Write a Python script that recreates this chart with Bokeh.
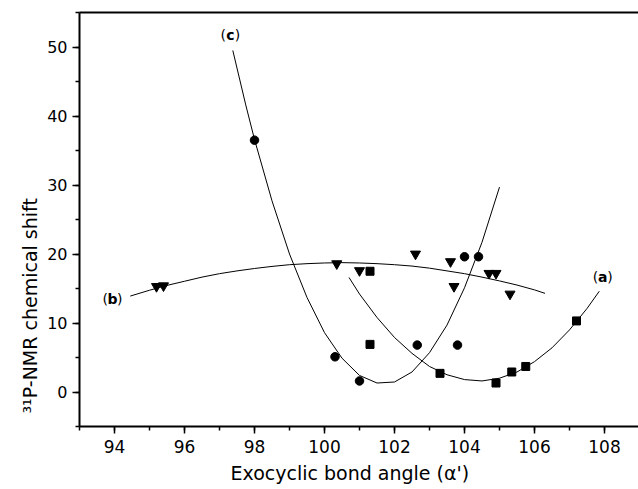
from bokeh.plotting import figure
from bokeh.models import SingleIntervalTicker, FixedTicker, Range1d, LinearAxis, Title
from bokeh.core.properties import value
from bokeh.embed import file_html
from bokeh.resources import INLINE

# ---- data ----
a_x = [101.3, 101.3, 103.3, 104.9, 105.35, 105.75, 107.2]
a_y = [17.5, 6.9, 2.7, 1.3, 2.9, 3.7, 10.3]

b_x = [95.2, 95.4, 100.35, 101.0, 102.6, 103.6, 103.7, 104.7, 104.9, 105.3]
b_y = [15.3, 15.4, 18.6, 17.6, 20.0, 18.9, 15.3, 17.2, 17.2, 14.2]

c_x = [98.0, 100.3, 101.0, 102.65, 103.8, 104.0, 104.4]
c_y = [36.5, 5.1, 1.6, 6.8, 6.8, 19.6, 19.6]

fit_a_x = [100.7, 101.0, 101.5, 102.0, 102.5, 103.0, 103.5, 104.0, 104.5, 105.0,
           105.5, 106.0, 106.5, 107.0, 107.5, 107.85]
fit_a_y = [16.6, 14.2, 10.8, 7.9, 5.6, 3.7, 2.5, 1.8, 1.6, 2.0,
           2.9, 4.4, 6.4, 9.0, 12.1, 14.6]

fit_b_x = [94.45, 95.0, 95.5, 96.0, 96.5, 97.0, 97.5, 98.0, 98.5, 99.0, 99.5, 100.0,
           100.5, 101.0, 101.5, 102.0, 102.5, 103.0, 103.5, 104.0, 104.5, 105.0,
           105.5, 106.0, 106.3]
fit_b_y = [13.9, 14.75, 15.45, 16.05, 16.65, 17.15, 17.55, 17.9, 18.2, 18.45, 18.6, 18.7,
           18.75, 18.7, 18.6, 18.45, 18.25, 17.95, 17.55, 17.15, 16.65, 16.1,
           15.5, 14.8, 14.3]

fit_c_x = [97.38, 97.75, 98.0, 98.5, 99.0, 99.5, 100.0, 100.5, 101.0, 101.5, 102.0,
           102.5, 103.0, 103.5, 104.0, 104.5, 105.0]
fit_c_y = [49.5, 41.6, 36.6, 27.7, 20.0, 13.7, 8.6, 4.9, 2.4, 1.3, 1.45,
           2.9, 5.7, 9.7, 15.1, 21.7, 29.7]

x_title = "Exocyclic bond angle (\u03b1')"
y_title = "\u00b3\u00b9P-NMR chemical shift"

FONT = "DejaVu Sans"

p = figure(width=638, height=489, output_backend="svg", toolbar_location=None,
           x_range=Range1d(93, 108.971), y_range=Range1d(-5, 55),
           min_border_left=79, min_border_right=0, min_border_top=12, min_border_bottom=63)
p.outline_line_color = None
p.xgrid.visible = False
p.ygrid.visible = False
p.background_fill_color = "white"
p.border_fill_color = "white"

p.xaxis.ticker = SingleIntervalTicker(interval=2, num_minor_ticks=2)
p.yaxis.ticker = SingleIntervalTicker(interval=10, num_minor_ticks=2)
for ax in (p.xaxis[0], p.yaxis[0]):
    ax.axis_line_width = 2
    ax.axis_line_color = "black"
    ax.major_tick_line_width = 1.5
    ax.minor_tick_line_width = 1.5
    ax.major_tick_line_color = "black"
    ax.minor_tick_line_color = "black"
    ax.major_tick_in = 0
    ax.major_tick_out = 7
    ax.minor_tick_in = 0
    ax.minor_tick_out = 4
    ax.major_label_text_font = FONT
    ax.major_label_text_color = "black"
p.xaxis.major_label_text_font_size = "17px"
p.yaxis.major_label_text_font_size = "16px"
p.xaxis.major_label_standoff = 6
p.yaxis.major_label_standoff = 5

# top frame line (axis without ticks or labels)
top = LinearAxis(ticker=FixedTicker(ticks=[], minor_ticks=[]),
                 axis_line_width=2, axis_line_color="black",
                 major_tick_line_color=None, minor_tick_line_color=None,
                 major_label_standoff=0, major_tick_out=0, minor_tick_out=0)
p.add_layout(top, "above")

# fitted curves
p.line(fit_a_x, fit_a_y, line_color="black", line_width=1)
p.line(fit_b_x, fit_b_y, line_color="black", line_width=1)
p.line(fit_c_x, fit_c_y, line_color="black", line_width=1)

# points
p.scatter(a_x, a_y, marker="square", size=8, color="black")
p.scatter(b_x, b_y, marker="inverted_triangle", size=10, color="black")
p.scatter(c_x, c_y, marker="circle", size=8.5, color="black")

# curve labels: "(" letter ")" with bold letter
for lx, ly, letter in [(107.95, 16.6, "a"), (93.94, 13.5, "b"), (97.31, 51.8, "c")]:
    p.text(x=[lx], y=[ly], text=[letter], text_font=value(FONT), text_font_size="14px",
           text_font_style="bold", text_align="center", text_baseline="middle", text_color="black")
    p.text(x=[lx], y=[ly], text=["("], text_font=value(FONT), text_font_size="14px",
           text_align="right", text_baseline="middle", x_offset=-4.5, text_color="black")
    p.text(x=[lx], y=[ly], text=[")"], text_font=value(FONT), text_font_size="14px",
           text_align="left", text_baseline="middle", x_offset=4.5, text_color="black")

# axis titles
p.add_layout(Title(text=x_title, align="left", offset=151, standoff=8,
                   text_font=FONT, text_font_size="19px", text_font_style="normal",
                   text_color="black"), "below")
p.add_layout(Title(text=y_title, align="left", offset=13, standoff=7,
                   text_font=FONT, text_font_size="19px", text_font_style="normal",
                   text_color="black"), "left")

open("out.html", "w").write(file_html(p, INLINE))
